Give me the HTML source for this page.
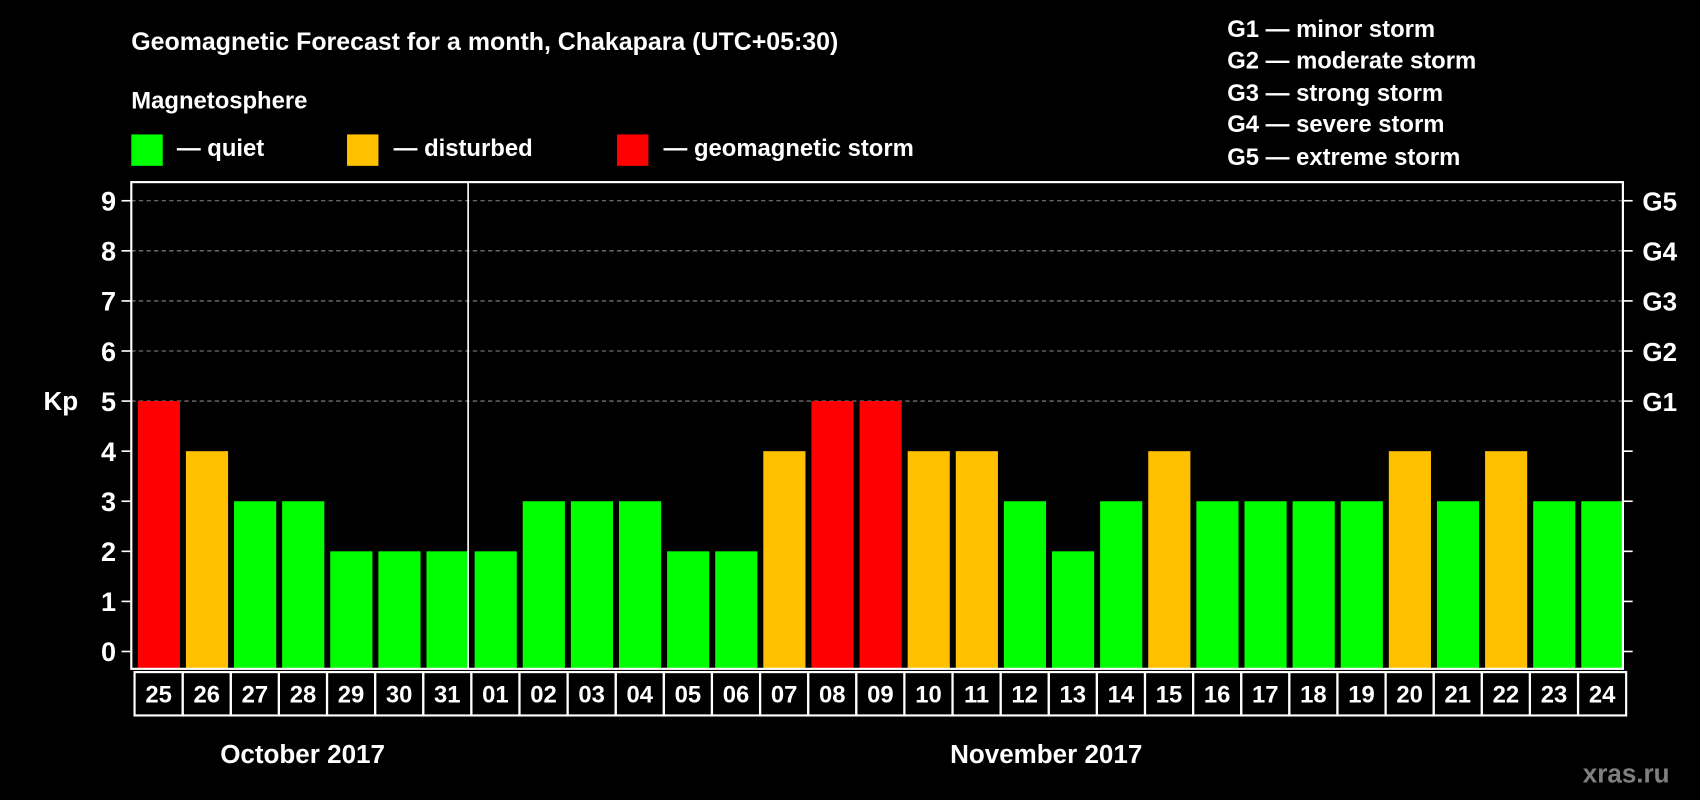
<!DOCTYPE html>
<html><head><meta charset="utf-8"><style>
html,body{margin:0;padding:0;background:#000;width:1700px;height:800px;overflow:hidden}
svg{display:block;font-family:"Liberation Sans",Arial,sans-serif;font-weight:bold}
</style></head><body>
<svg id="chart" width="1700" height="800" viewBox="0 0 1568 738" xmlns="http://www.w3.org/2000/svg">
<rect width="1568" height="738" fill="#000"/>
<text x="121" y="46" fill="#fff" font-size="23">Geomagnetic Forecast for a month, Chakapara (UTC+05:30)</text>
<text x="121" y="100" fill="#fff" font-size="22">Magnetosphere</text>
<g><rect x="121" y="124" width="29" height="29" fill="#00ff00"/><text x="163" y="144" fill="#fff" font-size="22">— quiet</text></g>
<g><rect x="320" y="124" width="29" height="29" fill="#ffc000"/><text x="363" y="144" fill="#fff" font-size="22">— disturbed</text></g>
<g><rect x="569" y="124" width="29" height="29" fill="#ff0000"/><text x="612" y="144" fill="#fff" font-size="22">— geomagnetic storm</text></g>
<g fill="#fff" font-size="22">
<text x="1132" y="34">G1 — minor storm</text>
<text x="1132" y="63">G2 — moderate storm</text>
<text x="1132" y="93">G3 — strong storm</text>
<text x="1132" y="122">G4 — severe storm</text>
<text x="1132" y="152">G5 — extreme storm</text>
</g>
<text x="40" y="378" fill="#fff" font-size="24">Kp</text>
<g id="grid"></g><g id="bars"></g><g id="axes"></g><g id="days"></g>
<text x="279" y="704" fill="#fff" font-size="24" text-anchor="middle">October 2017</text>
<text x="965" y="704" fill="#fff" font-size="24" text-anchor="middle">November 2017</text>
<text x="1540" y="722" fill="#808080" font-size="24" text-anchor="end">xras.ru</text>
</svg>
<script>
const days=["25","26","27","28","29","30","31","01","02","03","04","05","06","07","08","09","10","11","12","13","14","15","16","17","18","19","20","21","22","23","24"];
const kpValues=[5,4,3,3,2,2,2,2,3,3,3,2,2,4,5,5,4,4,3,2,3,4,3,3,3,3,4,3,4,3,3];
const yTicks=[0,1,2,3,4,5,6,7,8,9];
const gLabels=["G1","G2","G3","G4","G5"];
const NS="http://www.w3.org/2000/svg";
const L=121,R=1497,T=168,B=617,Y0=601,UNIT=46.2;
const pitch=(R-L)/days.length;
const y=v=>Y0-v*UNIT;
const x=i=>L+i*pitch;
function mk(tag,attrs,parent){const e=document.createElementNS(NS,tag);for(const k in attrs)e.setAttribute(k,attrs[k]);parent.appendChild(e);return e;}
const grid=document.getElementById('grid'),bars=document.getElementById('bars'),axes=document.getElementById('axes'),dg=document.getElementById('days');
yTicks.forEach(v=>{
  if(v>=5){const gl=mk('line',{x1:L,x2:R,y1:y(v),y2:y(v),stroke:'#888','stroke-width':1,'stroke-dasharray':'4,3'},grid);
  
  }
  const tl=mk('line',{x1:L-9,x2:L,y1:y(v),y2:y(v),stroke:'#fff','stroke-width':1.5},axes);
  
  
  const tr=mk('line',{x1:R,x2:R+9,y1:y(v),y2:y(v),stroke:'#fff','stroke-width':1.5},axes);
  
  
  const t=mk('text',{x:L-14,y:y(v)+9,fill:'#fff','font-size':25,'text-anchor':'end'},axes);t.textContent=v;
  
  
});
gLabels.forEach((g,i)=>{const t=mk('text',{x:R+18,y:y(5+i)+9,fill:'#fff','font-size':24},axes);t.textContent=g;
  
  });
kpValues.forEach((v,i)=>{
  const c=v>=5?'#ff0000':(v>=4?'#ffc000':'#00ff00');
  const b=mk('rect',{x:x(i)+6,y:y(v),width:pitch-5.5,height:B-y(v),fill:c},bars);
  
  
});
const fr=mk('rect',{x:L,y:T,width:R-L,height:B-T,fill:'none',stroke:'#fff','stroke-width':2},axes);


const sep=mk('line',{x1:x(7),x2:x(7),y1:T,y2:B,stroke:'#fff','stroke-width':1.5},axes);


days.forEach((d,i)=>{
  const r=mk('rect',{x:x(i)+3,y:620,width:pitch,height:40,fill:'none',stroke:'#fff','stroke-width':2},dg);
  
  
  const t=mk('text',{x:x(i)+3+pitch/2,y:648,fill:'#fff','font-size':22,'text-anchor':'middle'},dg);t.textContent=d;
  
  
});
</script>
</body></html>
